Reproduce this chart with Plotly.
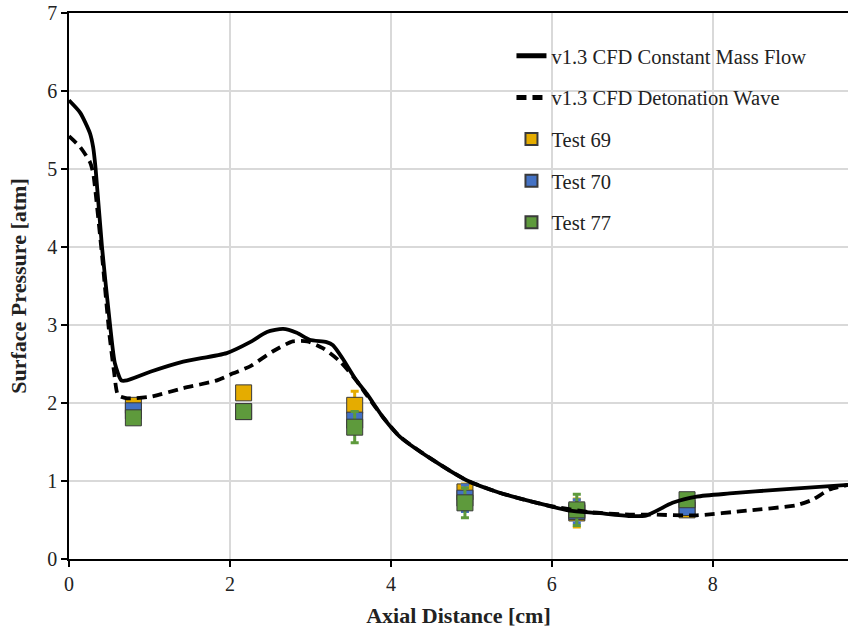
import plotly.graph_objects as go

# ---- data ----
cmf_x = [0.0, 0.14, 0.26, 0.30, 0.33, 0.41, 0.51, 0.57, 0.65, 0.72, 1.01, 1.42, 1.96, 2.25, 2.46, 2.66,
         2.83, 2.99, 3.20, 3.28, 3.40, 3.57, 3.70, 3.90, 4.11, 4.52, 4.94, 5.35, 5.93, 6.22, 6.56,
         6.97, 7.18, 7.50, 7.80, 8.21, 8.83, 9.68]
cmf_y = [5.88, 5.72, 5.46, 5.28, 5.01, 4.00, 3.00, 2.51, 2.29, 2.29, 2.40, 2.53, 2.64, 2.78, 2.91, 2.95,
         2.90, 2.81, 2.78, 2.74, 2.57, 2.29, 2.12, 1.82, 1.57, 1.27, 1.01, 0.85, 0.69, 0.62, 0.59,
         0.55, 0.56, 0.72, 0.80, 0.84, 0.89, 0.95]

det_x = [0.0, 0.14, 0.26, 0.30, 0.33, 0.41, 0.50, 0.56, 0.61, 0.72, 1.01, 1.42, 1.84, 2.04, 2.25, 2.53,
         2.78, 2.96, 3.16, 3.37, 3.57, 3.70, 3.90, 4.11, 4.52, 4.94, 5.35, 5.93, 6.47, 6.97, 7.20,
         7.80, 8.42, 9.04, 9.24, 9.45, 9.68]
det_y = [5.42, 5.28, 5.09, 4.95, 4.70, 3.90, 2.90, 2.40, 2.10, 2.06, 2.08, 2.19, 2.29, 2.38, 2.47, 2.66,
         2.79, 2.79, 2.70, 2.53, 2.29, 2.10, 1.82, 1.57, 1.27, 1.01, 0.85, 0.69, 0.60, 0.57, 0.57,
         0.56, 0.62, 0.69, 0.76, 0.89, 0.95]

test_x = [0.80, 2.17, 3.55, 4.92, 6.31, 7.68]
t69_y = [1.97, 2.13, 1.97, 0.86, 0.59, 0.63]
t69_err = [0.03, 0.03, 0.18, 0.10, 0.18, 0.03]
t70_y = [1.90, 1.89, 1.78, 0.78, 0.61, 0.66]
t70_err = [0.03, 0.03, 0.10, 0.17, 0.15, 0.05]
t77_y = [1.81, 1.89, 1.69, 0.72, 0.63, 0.76]
t77_err = [0.03, 0.03, 0.20, 0.19, 0.20, 0.05]

x_ticks = [0, 2, 4, 6, 8]
y_ticks = [0, 1, 2, 3, 4, 5, 6, 7]

FONT = "Liberation Serif, Times New Roman, serif"
C69, C70, C77 = "#E5AC00", "#4472C4", "#5E9A3C"

fig = go.Figure()

for name, ys, errs, col, rank in [("Test 69", t69_y, t69_err, C69, 3),
                                  ("Test 70", t70_y, t70_err, C70, 4),
                                  ("Test 77", t77_y, t77_err, C77, 5)]:
    fig.add_trace(go.Scatter(
        x=test_x, y=ys, mode="markers", name=name, legendrank=rank, legendgroup=name,
        marker=dict(symbol="square", size=16, color=col, line=dict(color="#3a3a3a", width=1)),
        error_y=dict(type="data", array=errs, visible=True, color=col, thickness=3, width=4),
    ))

fig.add_trace(go.Scatter(x=cmf_x, y=cmf_y, mode="lines", name="v1.3 CFD Constant Mass Flow",
                         legendrank=1, legendgroup="cmf",
                         line=dict(color="black", width=3.8, shape="spline", smoothing=0.6)))
fig.add_trace(go.Scatter(x=det_x, y=det_y, mode="lines", name="v1.3 CFD Detonation Wave",
                         legendrank=2, legendgroup="det",
                         line=dict(color="black", width=3.8, dash="10px,6px", shape="spline", smoothing=0.6)))

fig.update_layout(
    width=848, height=631,
    margin=dict(l=69, r=0, t=13, b=72, autoexpand=False),
    paper_bgcolor="white", plot_bgcolor="white",
    font=dict(family=FONT, size=20, color="#222222"),
    xaxis=dict(range=[0, 9.68], tickvals=x_ticks, showgrid=True, gridcolor="#d9d9d9", gridwidth=1.5,
               showline=True, linecolor="black", linewidth=1.5, mirror=True, automargin=False,
               ticks="outside", ticklen=6, tickcolor="black", tickwidth=1.5, zeroline=False,
               ticklabeloverflow="allow",
               title=dict(text="<b>Axial Distance [cm]</b>", font=dict(family=FONT, size=22), standoff=14)),
    yaxis=dict(range=[0, 7], tickvals=y_ticks, showgrid=True, gridcolor="#d9d9d9", gridwidth=1.5,
               showline=True, linecolor="black", linewidth=1.5, automargin=False,
               ticks="outside", ticklen=6, tickcolor="black", tickwidth=1.5, zeroline=False,
               ticklabeloverflow="allow",
               title=dict(text="<b>Surface Pressure [atm]</b>", font=dict(family=FONT, size=22), standoff=15)),
    xaxis2=dict(range=[0, 9.68], tickvals=x_ticks, overlaying="x", anchor="y", side="bottom",
                ticks="inside", ticklen=6, tickcolor="black", tickwidth=1.5, showticklabels=False,
                showgrid=False, zeroline=False, showline=False, automargin=False),
    yaxis2=dict(range=[0, 7], tickvals=y_ticks, overlaying="y", anchor="x", side="left",
                ticks="inside", ticklen=6, tickcolor="black", tickwidth=1.5, showticklabels=False,
                showgrid=False, zeroline=False, showline=False, automargin=False),
    showlegend=True,
    legend=dict(x=0.568, y=0.958, xanchor="left", yanchor="top", bgcolor="rgba(255,255,255,0)",
                font=dict(family=FONT, size=20.5, color="#222222"), tracegroupgap=12,
                itemsizing="constant"),
)

fig.write_html("out.html", config={"displayModeBar": False},
               post_script="document.body.style.margin='0';document.body.style.overflow='hidden';")
